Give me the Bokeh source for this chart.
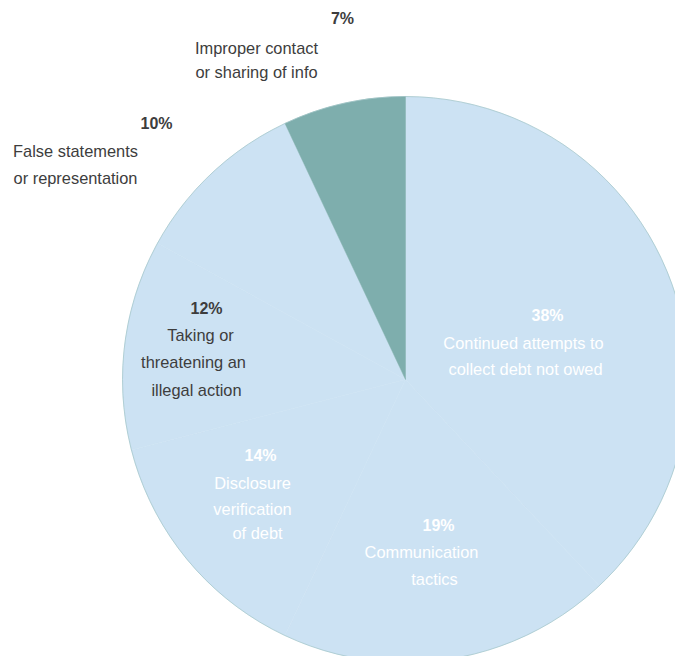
import math
from bokeh.plotting import figure
from bokeh.models import Range1d, ColumnDataSource
from bokeh.core.properties import value
from bokeh.embed import file_html
from bokeh.resources import INLINE

# ---- data ----
categories = [
    "Continued attempts to collect debt not owed",
    "Communication tactics",
    "Disclosure verification of debt",
    "Taking or threatening an illegal action",
    "False statements or representation",
    "Improper contact or sharing of info",
]
shares = [38, 19, 14, 12, 10, 7]
pct_labels = ["38%", "19%", "14%", "12%", "10%", "7%"]
label_lines = [
    ["Continued attempts to", "collect debt not owed"],
    ["Communication", "tactics"],
    ["Disclosure", "verification", "of debt"],
    ["Taking or", "threatening an", "illegal action"],
    ["False statements", "or representation"],
    ["Improper contact", "or sharing of info"],
]
slice_colors = ["#cce2f3", "#cce2f3", "#cce2f3", "#cce2f3", "#cce2f3", "#7eaead"]
text_colors = ["#ffffff", "#ffffff", "#ffffff", "#3d3d3d", "#3d3d3d", "#3d3d3d"]

# ---- layout (picture pixel coordinates) ----
W, H = 675, 656
PAGE_H = 664
cx, cy, R = 405, 379, 283
pct_pos = [(547, 315), (438, 525), (260, 455), (206, 308), (156, 123), (342, 18)]
line_pos = [
    [(523, 342), (525, 368)],
    [(421, 551), (434, 578)],
    [(252, 482), (252, 508), (257, 532)],
    [(200, 334), (193, 361), (196, 389)],
    [(75, 150), (75, 177)],
    [(256, 47), (256, 71)],
]

def Y(img_y):
    return PAGE_H - img_y

p = figure(width=W, height=H, output_backend="svg", toolbar_location=None,
           x_range=Range1d(0, W), y_range=Range1d(PAGE_H - H, PAGE_H),
           min_border=0, outline_line_color=None, background_fill_color="white",
           border_fill_color="white")
p.axis.visible = False
p.grid.visible = False

total = sum(shares)
starts, ends = [], []
acc = 0.0
for s in shares:
    a0 = math.pi / 2 - 2 * math.pi * acc / total
    acc += s
    a1 = math.pi / 2 - 2 * math.pi * acc / total
    starts.append(a0)
    ends.append(a1)

src = ColumnDataSource(dict(start=starts, end=ends, color=slice_colors, cat=categories))
p.wedge(x=cx, y=Y(cy), radius=R, start_angle="start", end_angle="end",
        direction="clock", fill_color="color", line_color="color", line_width=0.5, source=src)
p.scatter(x=[cx], y=[Y(cy)], size=2 * R, fill_color=None, line_color="#9fc3c6", line_width=0.7)

px = [q[0] for q in pct_pos]
py = [Y(q[1]) for q in pct_pos]
p.text(x=px, y=py, text=pct_labels, text_color=text_colors,
       text_font=value("Liberation Sans"), text_font_size="16px", text_font_style="bold",
       text_align="center", text_baseline="middle")

lx, ly, lt, lc = [], [], [], []
for i, lines in enumerate(label_lines):
    for j, t in enumerate(lines):
        lx.append(line_pos[i][j][0])
        ly.append(Y(line_pos[i][j][1]))
        lt.append(t)
        lc.append(text_colors[i])
p.text(x=lx, y=ly, text=lt, text_color=lc,
       text_font=value("Liberation Sans"), text_font_size="16.4px",
       text_align="center", text_baseline="middle")

open("out.html", "w").write(file_html(p, INLINE))
